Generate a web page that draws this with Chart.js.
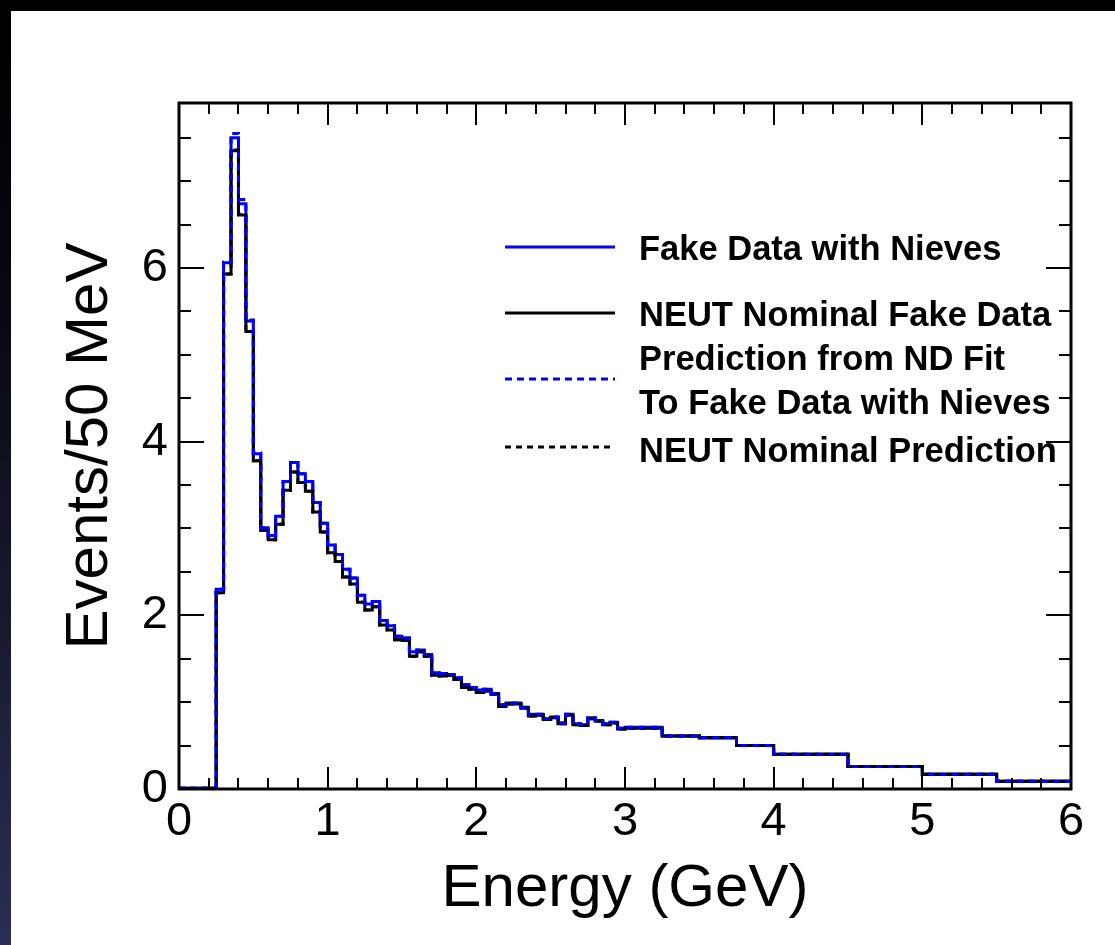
<!DOCTYPE html>
<html><head><meta charset="utf-8">
<script src="https://cdn.jsdelivr.net/npm/chart.js@4.4.0/dist/chart.umd.min.js"></script>
<style>
html,body{margin:0;padding:0;width:1115px;height:945px;overflow:hidden;background:#000;}
#strip{position:absolute;left:0;top:0;width:11px;height:945px;background:linear-gradient(#000 0%,#05050c 25%,#15162a 60%,#2c2d55 100%);}
#white{position:absolute;left:11px;top:11px;width:1104px;height:934px;background:#fff;}
canvas{position:absolute;left:0;top:0;}
</style></head><body>
<div id="strip"></div><div id="white"></div>
<canvas id="c" width="1115" height="945"></canvas>
<script>
// Bin lower edges (GeV); last entry is the upper edge of the final bin
const binEdges = [0.00,0.05,0.10,0.15,0.20,0.25,0.30,0.35,0.40,0.45,
  0.50,0.55,0.60,0.65,0.70,0.75,0.80,0.85,0.90,0.95,
  1.00,1.05,1.10,1.15,1.20,1.25,1.30,1.35,1.40,1.45,
  1.50,1.55,1.60,1.65,1.70,1.75,1.80,1.85,1.90,1.95,
  2.00,2.05,2.10,2.15,2.20,2.25,2.30,2.35,2.40,2.45,
  2.50,2.55,2.60,2.65,2.70,2.75,2.80,2.85,2.90,2.95,
  3.00,3.25,3.50,3.75,4.00,4.50,5.00,5.50,6.00];

// Fake Data with Nieves (blue solid)
const fakeDataNieves = [0.01,0.01,0.01,0.01,0.01,2.30,6.06,7.50,6.74,5.39,
  3.86,3.01,2.92,3.14,3.54,3.76,3.63,3.54,3.30,3.06,
  2.81,2.70,2.53,2.43,2.23,2.13,2.16,1.94,1.88,1.76,
  1.74,1.58,1.60,1.55,1.34,1.33,1.32,1.28,1.20,1.17,
  1.14,1.15,1.10,0.97,0.99,0.99,0.94,0.86,0.86,0.81,
  0.83,0.76,0.86,0.75,0.74,0.82,0.79,0.75,0.77,0.70,
  0.71,0.61,0.59,0.50,0.40,0.26,0.17,0.09];

// NEUT Nominal Fake Data (black solid)
const neutNominalFakeData = [0.01,0.01,0.01,0.01,0.01,2.26,5.93,7.35,6.61,5.27,
  3.78,2.98,2.87,3.05,3.44,3.65,3.53,3.43,3.19,2.96,
  2.72,2.62,2.44,2.36,2.15,2.06,2.10,1.89,1.83,1.72,
  1.71,1.53,1.58,1.53,1.31,1.30,1.31,1.26,1.17,1.15,
  1.11,1.13,1.09,0.95,0.98,0.98,0.93,0.84,0.85,0.80,
  0.82,0.75,0.85,0.74,0.73,0.81,0.78,0.74,0.76,0.69,
  0.70,0.61,0.59,0.50,0.40,0.26,0.17,0.09];

// Prediction from ND Fit To Fake Data with Nieves (blue dotted)
const predNDFitNieves = [0.01,0.01,0.01,0.01,0.01,2.30,6.07,7.55,6.79,5.40,
  3.87,3.01,2.92,3.14,3.54,3.76,3.63,3.54,3.30,3.06,
  2.81,2.70,2.53,2.43,2.23,2.13,2.16,1.94,1.88,1.76,
  1.74,1.58,1.60,1.55,1.34,1.33,1.32,1.28,1.20,1.17,
  1.14,1.15,1.10,0.97,0.99,0.99,0.94,0.86,0.86,0.81,
  0.83,0.76,0.86,0.75,0.74,0.82,0.79,0.75,0.77,0.70,
  0.71,0.61,0.59,0.50,0.40,0.26,0.17,0.09];

// NEUT Nominal Prediction (black dotted)
const neutNominalPrediction = [0.01,0.01,0.01,0.01,0.01,2.26,5.93,7.36,6.62,5.27,
  3.78,2.98,2.87,3.05,3.44,3.65,3.53,3.43,3.19,2.96,
  2.72,2.62,2.44,2.36,2.15,2.06,2.10,1.89,1.83,1.72,
  1.71,1.53,1.58,1.53,1.31,1.30,1.31,1.26,1.17,1.15,
  1.11,1.13,1.09,0.95,0.98,0.98,0.93,0.84,0.85,0.80,
  0.82,0.75,0.85,0.74,0.73,0.81,0.78,0.74,0.76,0.69,
  0.70,0.61,0.59,0.50,0.40,0.26,0.17,0.09];

const xTickValues = [0,1,2,3,4,5,6];
const xTickLabels = ['0','1','2','3','4','5','6'];
const yTickValues = [0,2,4,6];
const yTickLabels = ['0','2','4','6'];

const legendLabels = [
  ['Fake Data with Nieves'],
  ['NEUT Nominal Fake Data'],
  ['Prediction from ND Fit','To Fake Data with Nieves'],
  ['NEUT Nominal Prediction']
];

const FONT = "'Liberation Sans', Arial, Helvetica, sans-serif";

function toSteps(vals){
  const pts = vals.map((v,i)=>({x: binEdges[i], y: v}));
  pts.push({x: binEdges[binEdges.length-1], y: vals[vals.length-1]});
  return pts;
}

const frameTicks = {
  id: 'frameTicks',
  afterDatasetsDraw(chart){
    const {ctx, chartArea: a, scales: {x, y}} = chart;
    ctx.save();
    ctx.strokeStyle = '#000';
    ctx.lineWidth = 2;
    ctx.beginPath();
    for (let k = 0; k <= 15; k++) {
      const v = k * 0.5;
      const p = Math.round(y.getPixelForValue(v));
      const len = (k % 4 === 0) ? 25 : 12;
      ctx.moveTo(a.left, p); ctx.lineTo(a.left + len, p);
      ctx.moveTo(a.right, p); ctx.lineTo(a.right - len, p);
    }
    for (let k = 0; k <= 30; k++) {
      const v = k * 0.2;
      const p = Math.round(x.getPixelForValue(v));
      const len = (k % 5 === 0) ? 22 : 11;
      ctx.moveTo(p, a.bottom); ctx.lineTo(p, a.bottom - len);
      ctx.moveTo(p, a.top); ctx.lineTo(p, a.top + len);
    }
    ctx.stroke();
    ctx.lineWidth = 3;
    ctx.strokeRect(a.left, a.top, a.right - a.left, a.bottom - a.top);
    ctx.restore();
  },
  afterDraw(chart){
    const ctx = chart.ctx;
    ctx.save();
    const entries = [
      {color:'#0000ff', dash:[], ly:247, ty:[250]},
      {color:'#000000', dash:[], ly:313, ty:[316]},
      {color:'#0000ff', dash:[7,5], ly:379, ty:[360,404]},
      {color:'#000000', dash:[6,5], ly:447, ty:[452]}
    ];
    entries.forEach((e,i)=>{
      ctx.strokeStyle = e.color;
      ctx.lineWidth = 3;
      ctx.setLineDash(e.dash);
      ctx.beginPath(); ctx.moveTo(505, e.ly); ctx.lineTo(615, e.ly); ctx.stroke();
      ctx.setLineDash([]);
      ctx.fillStyle = '#000';
      ctx.font = "bold 34.5px " + FONT;
      ctx.textAlign = 'left';
      ctx.textBaseline = 'middle';
      legendLabels[i].forEach((t,j)=> ctx.fillText(t, 639, e.ty[j]));
    });
    ctx.restore();
  }
};

new Chart(document.getElementById('c'), {
  type: 'line',
  data: {
    datasets: [
      {label:'Fake Data with Nieves', data: toSteps(fakeDataNieves), borderColor:'#0000ff', borderWidth:3, stepped:true, pointRadius:0, order:4},
      {label:'NEUT Nominal Fake Data', data: toSteps(neutNominalFakeData), borderColor:'#000000', borderWidth:3, stepped:true, pointRadius:0, order:3},
      {label:'NEUT Nominal Prediction', data: toSteps(neutNominalPrediction), borderColor:'#000000', borderWidth:3, borderDash:[6,5], stepped:true, pointRadius:0, order:2},
      {label:'Prediction from ND Fit To Fake Data with Nieves', data: toSteps(predNDFitNieves), borderColor:'#0000ff', borderWidth:3, borderDash:[7,5], stepped:true, pointRadius:0, order:1}
    ]
  },
  options: {
    responsive: false,
    animation: false,
    layout: {padding: {left:0, top:103, right:44, bottom:0}},
    plugins: {legend:{display:false}, tooltip:{enabled:false}},
    scales: {
      x: {
        type:'linear', min:0, max:6,
        grid:{display:false, drawTicks:false}, border:{display:false},
        afterBuildTicks(s){ s.ticks = xTickValues.map(v=>({value:v})); },
        ticks:{ callback:(v)=>{ const i = xTickValues.indexOf(v); return i>=0 ? xTickLabels[i] : ''; },
          font:{family:FONT, size:47}, color:'#000', padding:5, maxRotation:0, autoSkip:false },
        title:{display:true, text:'Energy (GeV)', font:{family:FONT, size:60}, color:'#000', padding:{top:0, bottom:20}},
        afterFit(s){ s.height = 156; }
      },
      y: {
        type:'linear', min:0, max:7.9,
        grid:{display:false, drawTicks:false}, border:{display:false},
        afterBuildTicks(s){ s.ticks = yTickValues.map(v=>({value:v})); },
        ticks:{ callback:(v)=>{ const i = yTickValues.indexOf(v); return i>=0 ? yTickLabels[i] : ''; },
          font:{family:FONT, size:47}, color:'#000', padding:11 },
        title:{display:true, text:'Events/50 MeV', font:{family:FONT, size:60}, color:'#000', padding:{top:54, bottom:0}},
        afterFit(s){ s.width = 179; }
      }
    }
  },
  plugins:[frameTicks]
});
</script>
</body></html>
